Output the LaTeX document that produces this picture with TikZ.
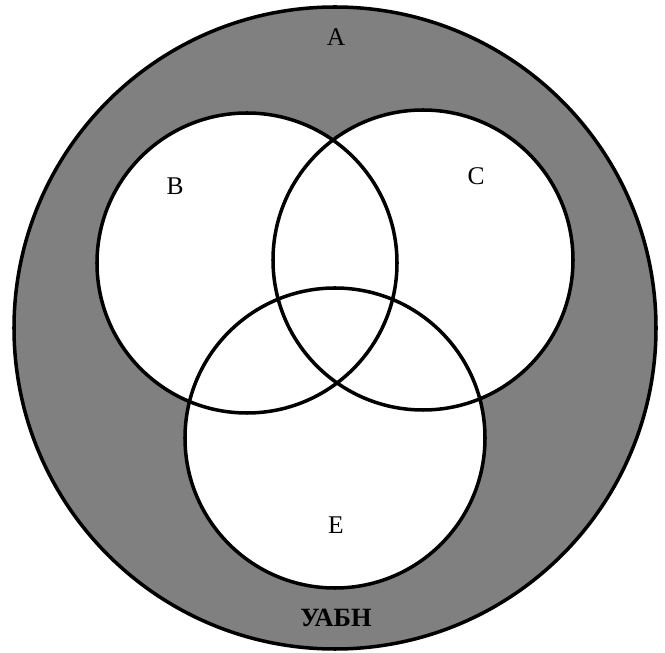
\documentclass[tikz,border=0pt]{standalone}
\usepackage{fontspec}
\setmainfont{Liberation Serif}
\usepackage{xcolor}
\usepackage{tikz}
\definecolor{setgray}{RGB}{128,128,128}
\tikzstyle{setline} = [draw=black, line width=2pt]
\tikzstyle{setlabel} = [font=\fontsize{14.5}{17}\selectfont, inner sep=0pt]

\begin{document}
\begin{tikzpicture}
    \useasboundingbox (0,0) rectangle (13.3,13.04);
    % universe and the three sets
    \coordinate (cA) at (6.7,6.48);
    \coordinate (cB) at (4.94,7.78);
    \coordinate (cC) at (8.46,7.84);
    \coordinate (cE) at (6.7,4.28);

    \filldraw[setline, fill=setgray] (cA) circle (6.42);
    \fill[white] (cB) circle (3.0);
    \fill[white] (cC) circle (3.0);
    \fill[white] (cE) circle (3.0);
    \draw[setline] (cB) circle (3.0);
    \draw[setline] (cC) circle (3.0);
    \draw[setline] (cE) circle (3.0);

    \node (labA) [setlabel] at (6.72,12.3) {A};
    \node (labB) [setlabel] at (3.5,9.32) {B};
    \node (labC) [setlabel] at (9.52,9.52) {C};
    \node (labE) [setlabel] at (6.72,2.54) {E};
    \node (labU) [setlabel, font=\fontsize{15}{17}\selectfont\bfseries]
        at (6.72,0.68) {УАБН};
\end{tikzpicture}
\end{document}
